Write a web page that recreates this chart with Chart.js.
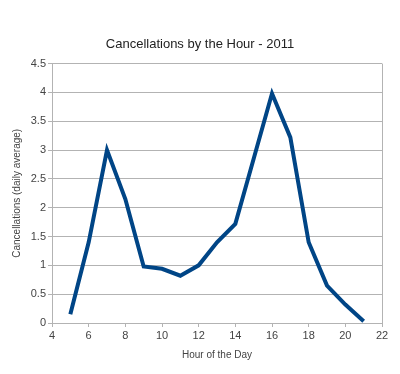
<!DOCTYPE html>
<html>
<head>
<meta charset="utf-8">
<script src="https://cdn.jsdelivr.net/npm/chart.js@4/dist/chart.umd.min.js"></script>
<style>
  html, body { margin: 0; padding: 0; background: #fff; }
  #wrap { width: 400px; height: 374px; }
</style>
</head>
<body>
<div id="wrap"><canvas id="cancelChart" width="400" height="374"></canvas></div>
<script>
// hours of the day and average daily cancellations
const hours = [5, 6, 7, 8, 9, 10, 11, 12, 13, 14, 15, 16, 17, 18, 19, 20, 21]
const cancellations = [0.15, 1.4, 3.0, 2.15, 0.98, 0.94, 0.82, 1.0, 1.4, 1.72, 2.85, 3.98, 3.22, 1.4, 0.65, 0.32, 0.03]

const xTicks = [4, 6, 8, 10, 12, 14, 16, 18, 20, 22]
const yTicks = [0, 0.5, 1, 1.5, 2, 2.5, 3, 3.5, 4, 4.5]

const points = hours.map((h, i) => ({ x: h, y: cancellations[i] }))

const fontFamily = '"Liberation Sans", Arial, sans-serif'
const gridColor = '#b3b3b3'

const ctx = document.getElementById('cancelChart').getContext('2d')

new Chart(ctx, {
    type: 'line',
    data: {
        datasets: [{
            data: points,
            borderColor: '#004586',
            borderWidth: 4,
            pointRadius: 0,
            tension: 0,
            fill: false,
            borderJoinStyle: 'miter'
        }]
    },
    options: {
        responsive: false,
        animation: false,
        layout: { padding: { left: 0, right: 0, top: 0, bottom: 9 } },
        plugins: {
            legend: { display: false },
            tooltip: { enabled: false },
            title: {
                display: true,
                text: 'Cancellations by the Hour - 2011',
                color: '#222',
                font: { family: fontFamily, size: 13, weight: 'normal' },
                padding: { top: 37, bottom: 11 }
            }
        },
        scales: {
            x: {
                type: 'linear',
                min: xTicks[0],
                max: xTicks[xTicks.length - 1],
                afterBuildTicks: axis => { axis.ticks = xTicks.map(v => ({ value: v })) },
                afterFit: scale => { scale.height = 42 },
                grid: { display: true, drawOnChartArea: false, color: gridColor, tickLength: 4 },
                border: { color: gridColor },
                ticks: {
                    color: '#444',
                    font: { family: fontFamily, size: 11 },
                    padding: 2,
                    maxRotation: 0
                },
                title: {
                    display: true,
                    text: 'Hour of the Day',
                    color: '#444',
                    font: { family: fontFamily, size: 10 },
                    padding: { top: 4, bottom: 4 }
                }
            },
            y: {
                min: yTicks[0],
                max: yTicks[yTicks.length - 1],
                afterBuildTicks: axis => { axis.ticks = yTicks.map(v => ({ value: v })) },
                afterFit: scale => { scale.width = 52 },
                grid: { color: gridColor, tickLength: 4 },
                border: { color: gridColor },
                ticks: {
                    color: '#444',
                    font: { family: fontFamily, size: 11 },
                    padding: 2,
                    callback: v => String(v)
                },
                title: {
                    display: true,
                    text: 'Cancellations (daily average)',
                    color: '#444',
                    font: { family: fontFamily, size: 10 },
                    padding: { top: 11, bottom: 4 }
                }
            },
            // empty right-hand strip so the plot ends where the reference's does
            yRight: {
                position: 'right',
                display: true,
                afterFit: scale => { scale.width = 18 },
                grid: { display: false },
                border: { display: false },
                ticks: { display: false },
                title: { display: false }
            }
        }
    },
    plugins: [{
        // right edge line of the plot, as in the reference
        id: 'rightEdge',
        afterDraw(chart) {
            const a = chart.chartArea
            const c = chart.ctx
            c.save()
            c.strokeStyle = gridColor
            c.lineWidth = 1
            c.beginPath()
            c.moveTo(Math.round(a.right) + 0.5, a.top)
            c.lineTo(Math.round(a.right) + 0.5, a.bottom)
            c.stroke()
            c.restore()
        }
    }]
})
</script>
</body>
</html>
